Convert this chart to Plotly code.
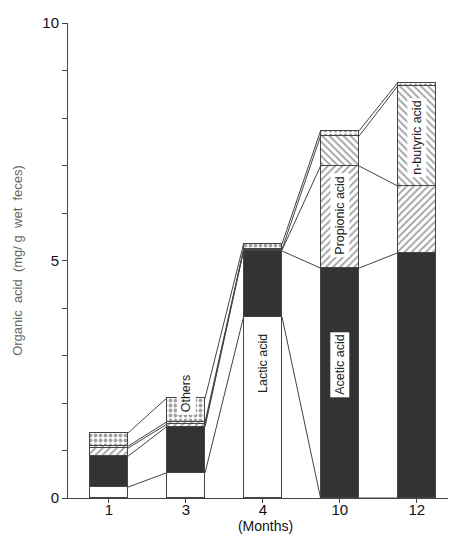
import plotly.graph_objects as go

months = ["1", "3", "4", "10", "12"]
lactic = [0.23, 0.53, 3.81, 0.0, 0.0]
acetic = [0.65, 0.97, 1.39, 4.84, 5.16]
propionic = [0.17, 0.05, 0.02, 2.15, 1.41]
butyric = [0.04, 0.05, 0.02, 0.63, 2.10]
others = [0.28, 0.50, 0.11, 0.11, 0.07]

series = [
    ("Lactic acid", lactic, "white", ""),
    ("Acetic acid", acetic, "#333333", ""),
    ("Propionic acid", propionic, "white", "/"),
    ("n-butyric acid", butyric, "white", "\\"),
    ("Others", others, "white", "."),
]

LINE = "#444444"
BAR_W = 0.5
xs = list(range(len(months)))

fig = go.Figure()
for name, vals, color, pat in series:
    marker = dict(color=color, line=dict(color=LINE, width=1))
    if pat:
        marker["pattern"] = dict(shape=pat, fgcolor="#444444", bgcolor="white",
                                 size=5, solidity=0.35 if pat != "." else 0.45)
    fig.add_trace(go.Bar(x=xs, y=vals, name=name, width=BAR_W, marker=marker,
                         showlegend=False))

# cumulative boundaries and connecting lines
cum = []
run = [0.0] * len(months)
for _, vals, _, _ in series:
    run = [r + v for r, v in zip(run, vals)]
    cum.append(list(run))

for level in cum:
    lx, ly = [], []
    for i in range(len(months) - 1):
        lx += [xs[i] + BAR_W / 2, xs[i + 1] - BAR_W / 2, None]
        ly += [level[i], level[i + 1], None]
    fig.add_trace(go.Scatter(x=lx, y=ly, mode="lines", line=dict(color=LINE, width=1),
                             showlegend=False, hoverinfo="skip"))

font_fam = "Liberation Sans Narrow, Arial Narrow, Liberation Sans, sans-serif"
lab_font = dict(family="Liberation Sans, Arial, sans-serif", size=12.5, color="#222")

labels = [
    ("Lactic acid", 2, 2.84, None),
    ("Acetic acid", 3, 2.8, "white"),
    ("Propionic acid", 3, 5.96, "white"),
    ("n-butyric acid", 4, 7.58, "white"),
    ("Others", 1, 2.2, "white"),
]
for text, i, y, bg in labels:
    fig.add_annotation(x=xs[i], y=y, text=text, textangle=-90, showarrow=False,
                       font=lab_font, bgcolor=bg if bg else "rgba(0,0,0,0)",
                       borderpad=2)

fig.update_layout(
    width=456, height=549,
    margin=dict(l=60, r=1, t=15, b=59),
    plot_bgcolor="white", paper_bgcolor="white",
    barmode="stack", bargap=0,
    font=dict(family=font_fam, size=14, color="#111"),
)
fig.update_xaxes(
    range=[-0.53, 4.6], tickvals=xs, ticktext=months,
    showline=True, linecolor=LINE, linewidth=1, ticks="outside", ticklen=4,
    tickcolor=LINE, showgrid=False, zeroline=False, ticklabelstandoff=-6,
    title=dict(text="(Months)", font=dict(family="Liberation Sans, Arial, sans-serif",
                                         size=14, color="#111"), standoff=0),
    tickfont=dict(size=15),
)
fig.update_yaxes(
    range=[0, 10], tickvals=list(range(11)),
    ticktext=["0", "", "", "", "", "5", "", "", "", "", "10"],
    showline=True, linecolor=LINE, linewidth=1, ticks="outside", ticklen=5,
    tickcolor=LINE, showgrid=False, zeroline=False,
    title=dict(text="Organic  acid  (mg/ g  wet  feces)",
               font=dict(family="Liberation Sans, Arial, sans-serif", size=13, color="#666"),
               standoff=16),
    tickfont=dict(size=15),
)

fig.write_html("out.html")
